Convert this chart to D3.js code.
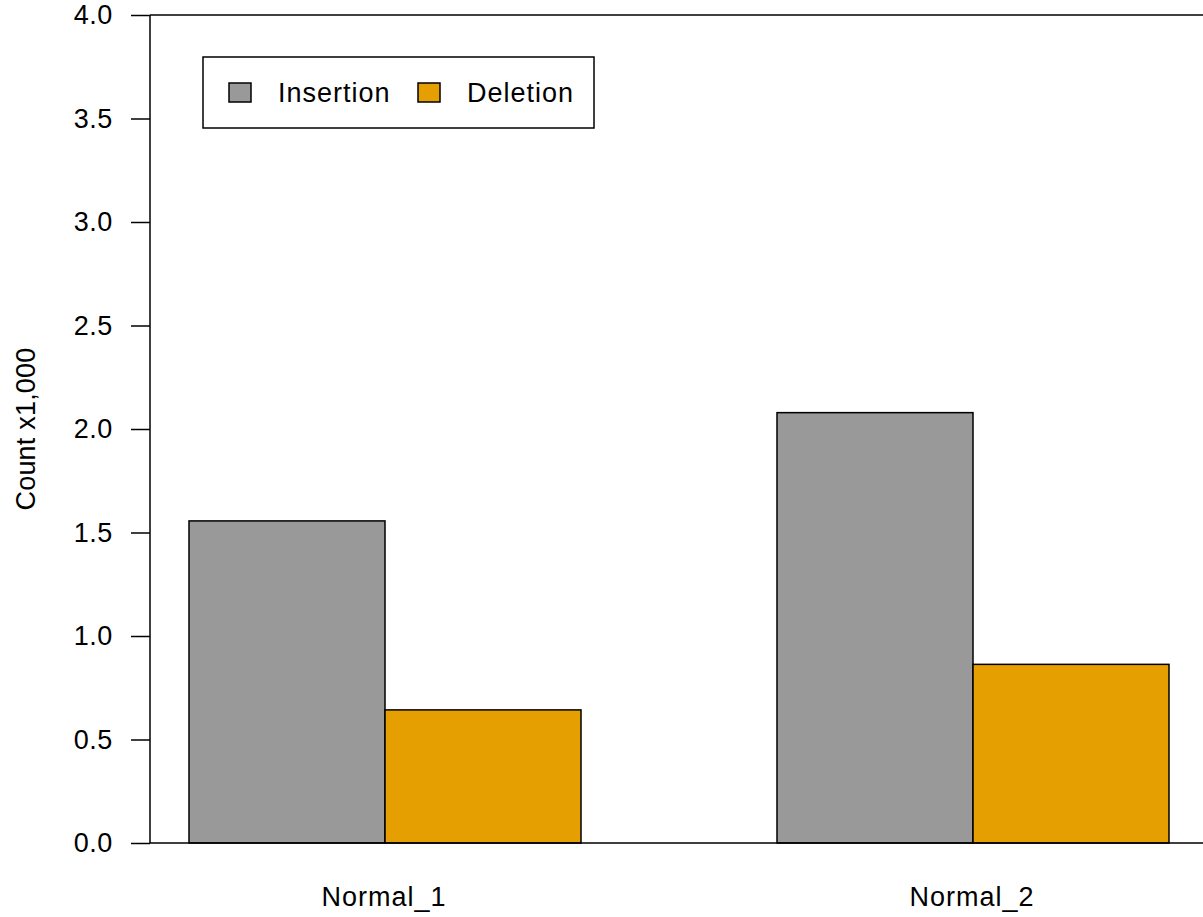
<!DOCTYPE html>
<html>
<head>
<meta charset="utf-8">
<script src="https://cdn.jsdelivr.net/npm/d3@7"></script>
<style>
  html, body { margin: 0; padding: 0; background: #fff; }
  svg { display: block; }
  text { font-family: "Liberation Sans", Arial, Helvetica, sans-serif; }
</style>
</head>
<body>
<svg id="chart" width="1203" height="917"></svg>
<script>
// ---- data ----
const groups = ["Normal_1", "Normal_2"];
const series = ["Insertion", "Deletion"];
const insertionValues = [1.556, 2.079];
const deletionValues = [0.643, 0.863];
const seriesColors = ["#999999", "#E69F00"];
const yTicks = [0, 0.5, 1, 1.5, 2, 2.5, 3, 3.5, 4];
const yTitle = "Count x1,000";

(function () {
const rows = groups.map((g, i) => ({ group: g, Insertion: insertionValues[i], Deletion: deletionValues[i] }));

// ---- layout ----
const W = 1203;
const mLeft = 150, mTop = 15, mBottom = 843;
const svg = d3.select("#chart");
const fs = 27;

const y = d3.scaleLinear().domain([0, 4]).range([mBottom, mTop]);
const x0 = d3.scaleBand().domain(groups).range([91, 1267]).paddingInner(1/3).paddingOuter(1/6);
const x1 = d3.scaleBand().domain(series).range([0, x0.bandwidth()]).padding(0);
const color = d3.scaleOrdinal().domain(series).range(seriesColors);

// bars
svg.append("g").selectAll("g.grp").data(rows).join("g")
  .attr("class", "grp")
  .attr("transform", d => `translate(${x0(d.group)},0)`)
  .selectAll("rect").data(d => series.map(s => ({ key: s, value: d[s] }))).join("rect")
  .attr("x", d => x1(d.key))
  .attr("y", d => y(d.value))
  .attr("width", x1.bandwidth())
  .attr("height", d => y(0) - y(d.value))
  .attr("fill", d => color(d.key))
  .attr("stroke", "#000")
  .attr("stroke-width", 1.5);

// frame lines (top & bottom)
svg.append("line").attr("x1", mLeft).attr("x2", W).attr("y1", y(4)).attr("y2", y(4))
  .attr("stroke", "#000").attr("stroke-width", 1.5);
svg.append("line").attr("x1", mLeft).attr("x2", W).attr("y1", y(0)).attr("y2", y(0))
  .attr("stroke", "#000").attr("stroke-width", 1.5);

// y axis
const yAxis = d3.axisLeft(y).tickValues(yTicks).tickFormat(d3.format(".1f")).tickSize(19).tickPadding(18);
const ya = svg.append("g").attr("transform", `translate(${mLeft},0)`).call(yAxis);
ya.select(".domain").attr("stroke", "#000").attr("stroke-width", 1.5).attr("d", `M0,${y(4)}V${y(0)}`);
ya.selectAll(".tick line").attr("stroke", "#000").attr("stroke-width", 1.5);
ya.selectAll(".tick text").attr("fill", "#000").style("font-size", fs + "px")
  .style("letter-spacing", "0.6px")
  .style("font-family", '"Liberation Sans", Arial, sans-serif');

// x labels
svg.selectAll("text.xl").data(groups).join("text")
  .attr("class", "xl")
  .attr("x", d => x0(d) + x0.bandwidth() / 2 - 1)
  .attr("y", 906)
  .attr("text-anchor", "middle")
  .style("font-size", fs + "px")
  .style("letter-spacing", "1px")
  .text(d => d);

// y title
svg.append("text")
  .attr("transform", `translate(35,${(mTop + mBottom) / 2}) rotate(-90)`)
  .attr("text-anchor", "middle")
  .style("font-size", fs + "px")
  .style("letter-spacing", "0.2px")
  .text(yTitle);

// legend
const lg = svg.append("g");
lg.append("rect").attr("x", 203).attr("y", 57).attr("width", 391).attr("height", 71)
  .attr("fill", "#fff").attr("stroke", "#000").attr("stroke-width", 1.5);
const legX = [229, 418];
series.forEach((s, i) => {
  lg.append("rect").attr("x", legX[i]).attr("y", 83).attr("width", 22).attr("height", 19)
    .attr("fill", color(s)).attr("stroke", "#000").attr("stroke-width", 1.5);
  lg.append("text").attr("x", legX[i] + 49).attr("y", 102)
    .style("font-size", fs + "px").style("letter-spacing", "1px").text(s);
});
})();
</script>
</body>
</html>
